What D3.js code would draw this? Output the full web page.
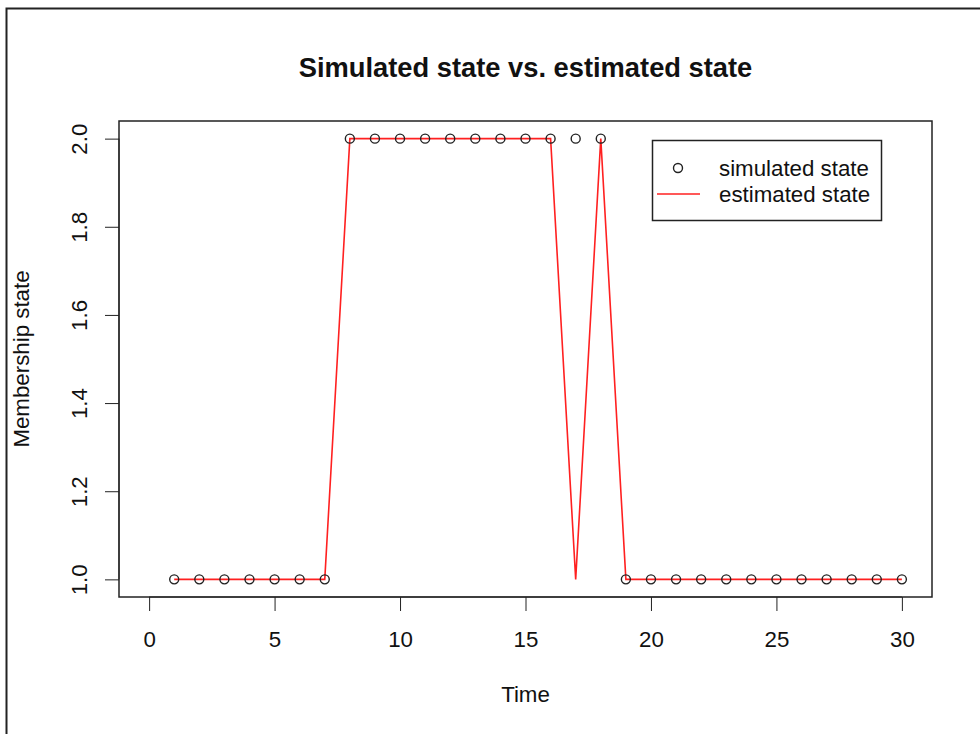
<!DOCTYPE html>
<html>
<head>
<meta charset="utf-8">
<script src="https://cdn.jsdelivr.net/npm/d3@7"></script>
<style>
  body { margin: 0; background: #fff; }
  text { font-family: "Liberation Sans", Arial, sans-serif; fill: #111; }
</style>
</head>
<body>
<script>
// data
var timeSteps = d3.range(1, 31);
var simulatedState = [1,1,1,1,1,1,1, 2,2,2,2,2,2,2,2,2,2,2, 1,1,1,1,1,1,1,1,1,1,1,1];
var estimatedState = [1,1,1,1,1,1,1, 2,2,2,2,2,2,2,2,2, 1, 2, 1,1,1,1,1,1,1,1,1,1,1,1];
var xTicks = [0, 5, 10, 15, 20, 25, 30];
var yTicks = [1.0, 1.2, 1.4, 1.6, 1.8, 2.0];

var W = 980, H = 734;
var plot = {left: 119, right: 932, top: 121, bottom: 597};

var svg = d3.select("body").append("svg")
    .attr("width", W)
    .attr("height", H);

svg.append("rect").attr("width", W).attr("height", H).attr("fill", "#fff");

// outer frame (screenshot edge)
svg.append("path")
    .attr("d", "M6.5," + H + "V8.5H" + W)
    .attr("fill", "none")
    .attr("stroke", "#222")
    .attr("stroke-width", 2);

// scales (R style 4% extension)
var x = d3.scaleLinear().domain([-1.2, 31.2]).range([plot.left, plot.right]);
var y = d3.scaleLinear().domain([0.96, 2.04]).range([plot.bottom, plot.top]);

// x axis
var xAxis = svg.append("g")
    .attr("transform", "translate(0," + plot.bottom + ")")
    .call(d3.axisBottom(x).tickValues(xTicks).tickSize(14).tickPadding(0).tickFormat(d3.format("d")));
xAxis.select(".domain").attr("d", "M" + x(0) + ",0H" + x(30)).attr("stroke", "#222");
xAxis.selectAll(".tick line").attr("stroke", "#222");
xAxis.selectAll(".tick text")
    .attr("y", 50).attr("dy", 0)
    .attr("font-size", "22.3px")
    .attr("font-family", "Liberation Sans, Arial, sans-serif")
    .attr("fill", "#111");

// y axis
var yAxis = svg.append("g")
    .attr("transform", "translate(" + plot.left + ",0)")
    .call(d3.axisLeft(y).tickValues(yTicks).tickSize(14).tickFormat(d3.format(".1f")));
yAxis.select(".domain").attr("d", "M0," + y(1) + "V" + y(2)).attr("stroke", "#222");
yAxis.selectAll(".tick line").attr("stroke", "#222");
yAxis.selectAll(".tick text")
    .attr("x", 0).attr("dy", 0)
    .attr("transform", "translate(-32,0) rotate(-90)")
    .attr("text-anchor", "middle")
    .attr("font-size", "22.3px")
    .attr("font-family", "Liberation Sans, Arial, sans-serif")
    .attr("fill", "#111");

// plot box
svg.append("rect")
    .attr("x", plot.left)
    .attr("y", plot.top)
    .attr("width", plot.right - plot.left)
    .attr("height", plot.bottom - plot.top)
    .attr("fill", "none")
    .attr("stroke", "#222")
    .attr("stroke-width", 1.5);

// estimated line
var line = d3.line()
    .x(function(d, i) { return x(timeSteps[i]); })
    .y(function(d) { return y(d); });

svg.append("path")
    .datum(estimatedState)
    .attr("d", line)
    .attr("fill", "none")
    .attr("stroke", "#ff2020")
    .attr("stroke-width", 1.6);

// simulated points
svg.selectAll("circle.sim")
    .data(simulatedState)
    .join("circle")
    .attr("class", "sim")
    .attr("cx", function(d, i) { return x(timeSteps[i]); })
    .attr("cy", function(d) { return y(d); })
    .attr("r", 4.5)
    .attr("fill", "none")
    .attr("stroke", "#222")
    .attr("stroke-width", 1.4);

// title & labels
svg.append("text")
    .attr("x", (plot.left + plot.right) / 2)
    .attr("y", 77)
    .attr("text-anchor", "middle")
    .attr("font-size", "27.3px")
    .attr("font-weight", "bold")
    .text("Simulated state vs. estimated state");

svg.append("text")
    .attr("x", (plot.left + plot.right) / 2)
    .attr("y", 702)
    .attr("text-anchor", "middle")
    .attr("font-size", "22.3px")
    .text("Time");

svg.append("text")
    .attr("transform", "translate(29," + ((plot.top + plot.bottom) / 2) + ") rotate(-90)")
    .attr("text-anchor", "middle")
    .attr("font-size", "22.3px")
    .text("Membership state");

// legend
var lg = svg.append("g");
lg.append("rect")
    .attr("x", 652.5).attr("y", 140.5)
    .attr("width", 229).attr("height", 80)
    .attr("fill", "#fff")
    .attr("stroke", "#222")
    .attr("stroke-width", 1.5);
lg.append("circle")
    .attr("cx", 678).attr("cy", 168).attr("r", 4.5)
    .attr("fill", "none").attr("stroke", "#222").attr("stroke-width", 1.4);
lg.append("line")
    .attr("x1", 657).attr("x2", 700).attr("y1", 194).attr("y2", 194)
    .attr("stroke", "#ff2020").attr("stroke-width", 1.6);
lg.append("text").attr("x", 719).attr("y", 176).attr("font-size", "22.3px").text("simulated state");
lg.append("text").attr("x", 719).attr("y", 202).attr("font-size", "22.3px").text("estimated state");
</script>
</body>
</html>
